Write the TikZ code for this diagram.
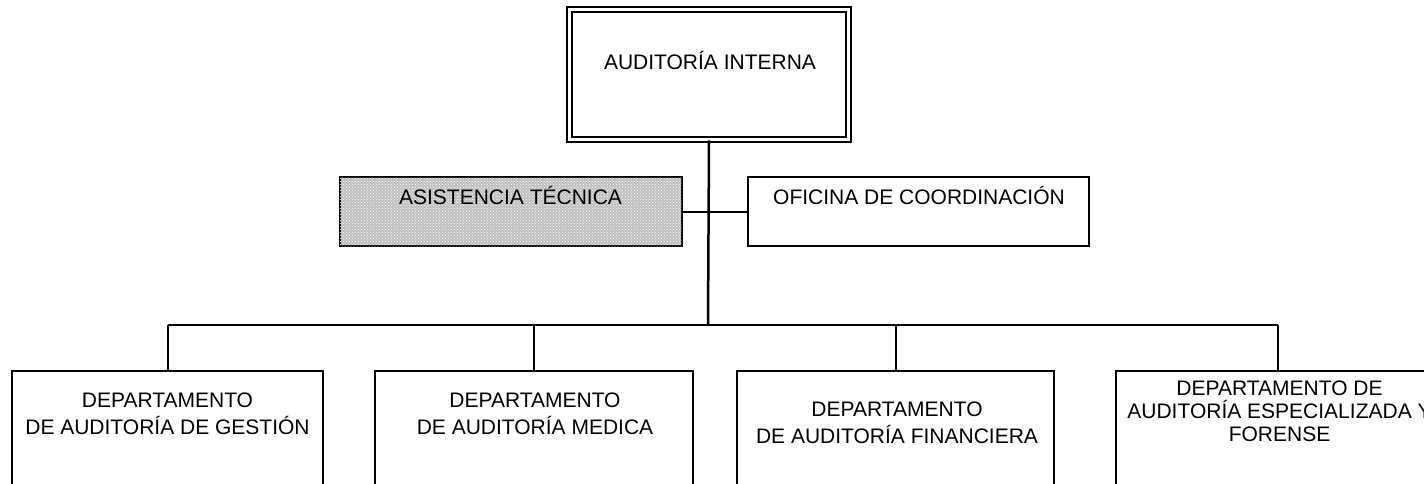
\documentclass[tikz,border=0pt]{standalone}
\usepackage{fontspec}
\setmainfont{Liberation Sans}
\usetikzlibrary{patterns}

\tikzset{
  unidad/.style={draw, line width=1.5pt, inner sep=0pt},
  jefatura/.style={unidad, double, double distance=3.5pt},
  asesoria/.style={unidad, fill=black!25, postaction={pattern=crosshatch dots, pattern color=white}},
  rotulo/.style={inner sep=0pt, font=\fontsize{21}{27}\selectfont, align=center},
  linea/.style={line width=2pt},
}

\begin{document}
\begin{tikzpicture}[x=1pt, y=-1pt]
                \useasboundingbox (0,0) rectangle (1424,483);
                \clip (0,0) rectangle (1424,483);

                % cajas
                \node[jefatura, minimum width=279pt, minimum height=130pt] (ai) at (709,74.5) {};
                \node[asesoria, minimum width=342pt, minimum height=69pt] (at) at (511,211.5) {};
                \node[unidad, minimum width=341pt, minimum height=69pt] (oc) at (918.5,211.5) {};

                \node[unidad, minimum width=311pt, minimum height=149pt] (dg) at (167.5,445.5) {};
                \node[unidad, minimum width=318pt, minimum height=149pt] (dm) at (534,445.5) {};
                \node[unidad, minimum width=317pt, minimum height=149pt] (df) at (895.5,445.5) {};
                \node[unidad, minimum width=324pt, minimum height=149pt] (de) at (1278,445.5) {};

                % textos
                \node[rotulo, text height=15pt, text depth=0pt] (ai-t) at (710,62) {AUDITORÍA INTERNA};
                \node[rotulo, text height=15pt, text depth=0pt] (at-t) at (510.5,197) {ASISTENCIA TÉCNICA};
                \node[rotulo, text height=15pt, text depth=0pt] (oc-t) at (919,197) {OFICINA DE COORDINACIÓN};

                \node[rotulo] (dg-t) at (167.5,413.5) {DEPARTAMENTO\\DE AUDITORÍA DE GESTIÓN};
                \node[rotulo] (dm-t) at (535,413.5) {DEPARTAMENTO\\DE AUDITORÍA MEDICA};
                \node[rotulo] (df-t) at (897,422.5) {DEPARTAMENTO\\DE AUDITORÍA FINANCIERA};
                \node[rotulo, font=\fontsize{21}{23}\selectfont] (de-t) at (1279.5,411) {DEPARTAMENTO DE\\AUDITORÍA ESPECIALIZADA Y\\FORENSE};

                % lineas
                \coordinate (bus) at (708,325);
                \draw[linea, line width=2.5pt] (ai.south) -- (bus);
                \draw[linea] (at.east) -- (oc.west);
                \draw[linea] (bus -| dg.north) -- (bus -| de.north);
                \foreach \d in {dg,dm,df,de}
                  \draw[linea] (bus -| \d.north) -- (\d.north);
            \end{tikzpicture}
\end{document}
